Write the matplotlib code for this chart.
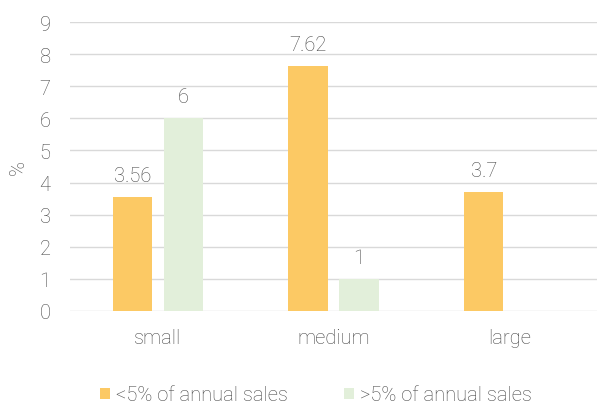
import matplotlib.pyplot as plt
import numpy as np

categories = ["small", "medium", "large"]
series_names = ["<5% of annual sales", ">5% of annual sales"]
low_vals = [3.56, 7.62, 3.7]
high_vals = [6, 1, None]
yticks = list(range(0, 10))

plt.rcParams['font.family'] = ['Roboto', 'DejaVu Sans']
text_color = '#474747'
colors = ['#FCC964', '#E2EFDA']
fs = 14.5

fig = plt.figure(figsize=(5.98, 4.06), dpi=100)
ax = fig.add_axes([70/598, 1 - 312/406, 527/598, (312-23)/406])

x = np.arange(len(categories))
w = 0.223
off = 0.145
lv = np.array(low_vals, dtype=float)
hv = np.array([np.nan if v is None else v for v in high_vals], dtype=float)
b1 = ax.bar(x - off, lv, w, color=colors[0], label=series_names[0], zorder=3)
b2 = ax.bar(x + off, np.nan_to_num(hv), w, color=colors[1], label=series_names[1], zorder=3)

for xi, v in zip(x - off, low_vals):
    ax.text(xi, v + 0.5, f"{v:g}", ha='center', va='baseline', fontsize=fs, color=text_color, fontweight='light')
for xi, v in zip(x + off, high_vals):
    if v is not None:
        ax.text(xi, v + 0.5, f"{v:g}", ha='center', va='baseline', fontsize=fs, color=text_color, fontweight='light')

ax.set_xlim(-0.5, 2.5)
ax.set_ylim(0, 9)
ax.set_yticks(yticks)
ax.set_xticks(x)
ax.set_xticklabels(categories)
ax.tick_params(axis='both', length=0, labelsize=fs, colors=text_color)
ax.tick_params(axis='y', pad=14)
ax.tick_params(axis='x', pad=12)
for lbl in ax.get_xticklabels() + ax.get_yticklabels():
    lbl.set_fontweight('light')
ax.grid(axis='y', color='#D9D9D9', linewidth=1, zorder=0)
for s in ax.spines.values():
    s.set_visible(False)
ax.set_ylabel('%', fontsize=fs, color=text_color, fontweight='light', labelpad=8)

leg = fig.legend(handles=[b1, b2], labels=series_names, loc='center', bbox_to_anchor=(316/598, 1 - 396/406),
                 ncol=2, frameon=False, fontsize=fs, handlelength=0.5, handleheight=0.5,
                 handletextpad=0.3, columnspacing=2.75)
for t in leg.get_texts():
    t.set_color(text_color)
    t.set_fontweight('light')

fig.savefig('out.png', dpi=100)
